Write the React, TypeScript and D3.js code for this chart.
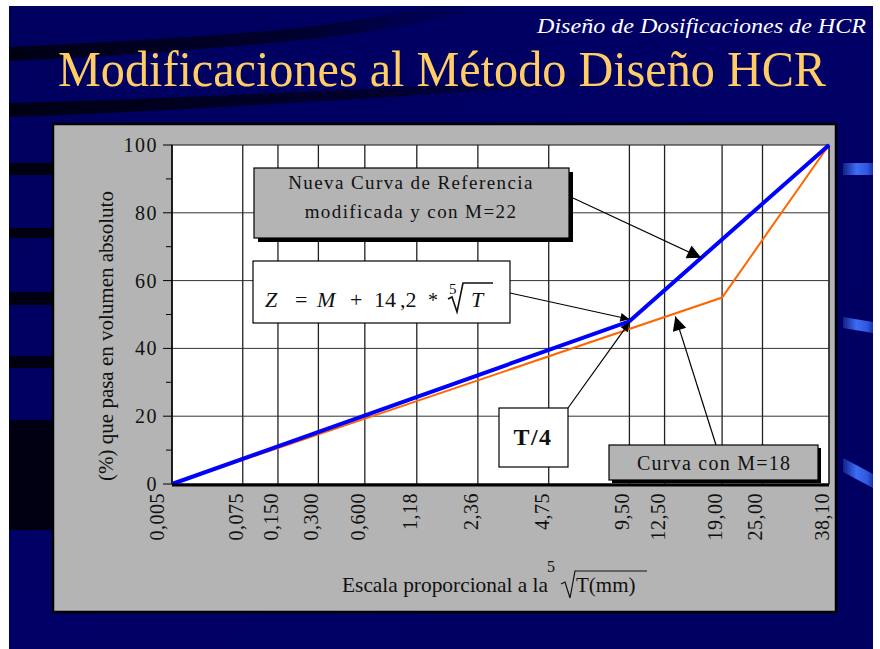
import React from "react";
import * as d3 from "d3";

// tamices (mm) y etiquetas del eje x
const sieveSizes = [0.005, 0.075, 0.15, 0.3, 0.6, 1.18, 2.36, 4.75, 9.5, 12.5, 19, 25, 38.1];
const sieveLabels = ["0,005", "0,075", "0,150", "0,300", "0,600", "1,18", "2,36", "4,75", "9,50", "12,50", "19,00", "25,00", "38,10"];

// curvas: % que pasa
const curveM22 = [
  { t: 0.005, p: 0 },
  { t: 9.5, p: 48 },
  { t: 38.1, p: 100 },
];
const curveM18 = [
  { t: 0.005, p: 0 },
  { t: 19, p: 55 },
  { t: 38.1, p: 100 },
];

const yMajor = [0, 20, 40, 60, 80, 100];
const yMinor = [10, 30, 50, 70, 90];

const SERIF = "'Liberation Serif', 'Times New Roman', Times, serif";

export default function App() {
  const W = 880;
  const H = 649;
  const plot = { left: 172, right: 829, top: 145, bottom: 484 };

  // escala proporcional a la raiz quinta de T
  const x = d3
    .scalePow()
    .exponent(0.2)
    .domain([0.0127, 38.1])
    .range([plot.left, plot.right])
    .clamp(true);
  const y = d3.scaleLinear().domain([0, 100]).range([plot.bottom, plot.top]);

  const line = d3
    .line<{ t: number; p: number }>()
    .x((d) => x(d.t))
    .y((d) => y(d.p));

  // puntos de las flechas tomados de las curvas
  const kink = [x(9.5), y(48)];
  const b0 = [x(9.5), y(48)];
  const b1 = [x(38.1), y(100)];
  const tip1 = [b0[0] + (b1[0] - b0[0]) * 0.36, b0[1] + (b1[1] - b0[1]) * 0.36];
  const o0 = [x(0.005), y(0)];
  const o1 = [x(19), y(55)];
  const tip4 = [o0[0] + (o1[0] - o0[0]) * 0.915, o0[1] + (o1[1] - o0[1]) * 0.915 + 3];

  return (
    <svg
      width={W}
      height={H}
      style={{ position: "absolute", left: 0, top: 0, display: "block" }}
    >
      <defs>
        <linearGradient id="bg" x1="0" y1="0" x2="1" y2="1">
          <stop offset="0%" stopColor="#00005e" />
          <stop offset="50%" stopColor="#000066" />
          <stop offset="100%" stopColor="#000060" />
        </linearGradient>
        <linearGradient id="swoosh" x1="0" y1="0" x2="1" y2="0">
          <stop offset="0%" stopColor="#000010" stopOpacity="0.95" />
          <stop offset="60%" stopColor="#000018" stopOpacity="0.7" />
          <stop offset="100%" stopColor="#000030" stopOpacity="0" />
        </linearGradient>
        <linearGradient id="dash" x1="0" y1="0" x2="1" y2="0">
          <stop offset="0%" stopColor="#10228a" />
          <stop offset="45%" stopColor="#3d6cf2" />
          <stop offset="80%" stopColor="#2f58e0" />
          <stop offset="100%" stopColor="#1a32a8" />
        </linearGradient>
        <marker id="arrS" viewBox="0 0 10 10" refX="10" refY="5" markerUnits="userSpaceOnUse" markerWidth="16" markerHeight="9" orient="auto">
          <path d="M0,0 L10,5 L0,10 z" fill="#000" />
        </marker>
        <marker id="arrB" viewBox="0 0 10 10" refX="10" refY="5" markerUnits="userSpaceOnUse" markerWidth="22" markerHeight="14" orient="auto">
          <path d="M0,0 L10,5 L0,10 z" fill="#000" />
        </marker>
      </defs>

      {/* fondo de la diapositiva */}
      <rect x={0} y={0} width={W} height={H} fill="#fff" />
      <rect x={9} y={6} width={864} height={643} fill="url(#bg)" />
      <path d="M9,47 C120,42 240,34 300,28 C360,20 410,12 430,6 L500,6 C440,20 380,32 300,40 C220,48 120,56 9,61 Z" fill="url(#swoosh)" />
      <path d="M9,103 C150,99 300,93 650,74 L650,80 C300,103 150,112 9,117 Z" fill="url(#swoosh)" />
      <rect x={9} y={163} width={44} height={12} fill="#000010" />
      <rect x={9} y={228} width={44} height={10} fill="#000010" />
      <rect x={9} y={292} width={44} height={13} fill="#000010" />
      <rect x={9} y={356} width={44} height={12} fill="#000010" />
      <rect x={9} y={420} width={44} height={110} fill="#000012" />
      <polygon points="843,163 873,163 873,175 843,175" fill="url(#dash)" />
      <polygon points="843,317 873,322 873,333 843,328" fill="url(#dash)" />
      <polygon points="843,458 873,474 873,488 843,472" fill="url(#dash)" />

      {/* titulos */}
      <text x={537} y={33} fill="#fff" fontFamily={SERIF} fontStyle="italic" fontSize={22} textLength={329} lengthAdjust="spacingAndGlyphs">
        Diseño de Dosificaciones de HCR
      </text>
      <text x={58} y={86} fill="#ffcc66" fontFamily={SERIF} fontSize={50} textLength={768} lengthAdjust="spacingAndGlyphs">
        Modificaciones al Método Diseño HCR
      </text>

      {/* panel del grafico */}
      <rect x={53} y={124} width={783} height={488} fill="#b4b4b4" stroke="#000" strokeWidth={2.5} />
      <rect x={plot.left} y={plot.top} width={plot.right - plot.left} height={plot.bottom - plot.top} fill="#fff" stroke="#333" strokeWidth={1.2} />

      {/* rejilla */}
      {yMajor.slice(1, -1).map((v) => (
        <line key={"gy" + v} x1={plot.left} x2={plot.right} y1={y(v)} y2={y(v)} stroke="#333" strokeWidth={1} />
      ))}
      {sieveSizes.slice(1).map((t) => (
        <line key={"gx" + t} x1={x(t)} x2={x(t)} y1={plot.top} y2={plot.bottom} stroke="#222" strokeWidth={1.3} />
      ))}

      {/* eje y */}
      <line x1={plot.left} x2={plot.left} y1={plot.top} y2={plot.bottom} stroke="#000" strokeWidth={1.5} />
      {yMajor.map((v) => (
        <g key={"ty" + v}>
          <line x1={plot.left - 9} x2={plot.left} y1={y(v)} y2={y(v)} stroke="#000" strokeWidth={1} />
          <text x={158} y={y(v) + 7} textAnchor="end" fontFamily={SERIF} fontSize={20} letterSpacing={1.5} fill="#111">
            {v}
          </text>
        </g>
      ))}
      {yMinor.map((v) => (
        <line key={"my" + v} x1={plot.left - 6} x2={plot.left} y1={y(v)} y2={y(v)} stroke="#000" strokeWidth={1} />
      ))}
      <text transform={`translate(113,336) rotate(-90)`} textAnchor="middle" fontFamily={SERIF} fontSize={21} fill="#111">
        (%) que pasa en volumen absoluto
      </text>

      {/* curvas */}
      <path d={line(curveM18) || ""} fill="none" stroke="#ff6600" strokeWidth={2} />
      <path d={line(curveM22) || ""} fill="none" stroke="#0000ff" strokeWidth={4} />

      {/* eje x */}
      <line x1={plot.left} x2={plot.right} y1={plot.bottom + 1} y2={plot.bottom + 1} stroke="#000" strokeWidth={3} />
      {sieveSizes.map((t, i) => (
        <text
          key={"tx" + t}
          transform={`translate(${x(t) + (i === 0 ? -8 : 0)},493) rotate(-90)`}
          textAnchor="end"
          fontFamily={SERIF}
          fontSize={20}
          letterSpacing={0.5}
          fill="#111"
        >
          {sieveLabels[i]}
        </text>
      ))}
      <text x={342} y={592} fontFamily={SERIF} fontSize={21} textLength={206} lengthAdjust="spacingAndGlyphs" fill="#111">
        Escala proporcional a la
      </text>
      <text x={547} y={572} fontFamily={SERIF} fontSize={16} fill="#111">5</text>
      <path d="M561,584 L565,582 L570,598 L575,571 L647,571" fill="none" stroke="#111" strokeWidth={1.2} />
      <text x={576} y={592} fontFamily={SERIF} fontSize={21} fill="#111">T(mm)</text>

      {/* recuadro: nueva curva */}
      <line x1={573} y1={198} x2={tip1[0]} y2={tip1[1]} stroke="#000" strokeWidth={1.2} markerEnd="url(#arrB)" />
      <rect x={258} y={172} width={315} height={70} fill="#000" />
      <rect x={254} y={168} width={315} height={70} fill="#b4b4b4" stroke="#000" strokeWidth={1.2} />
      <text x={411} y={189} textAnchor="middle" fontFamily={SERIF} fontSize={19} letterSpacing={1.4} fill="#111">
        Nueva Curva de Referencia
      </text>
      <text x={411} y={218} textAnchor="middle" fontFamily={SERIF} fontSize={19} letterSpacing={1.4} fill="#111">
        modificada y con M=22
      </text>

      {/* recuadro: formula */}
      <line x1={510} y1={293} x2={kink[0]} y2={kink[1] - 2} stroke="#000" strokeWidth={1.2} markerEnd="url(#arrS)" />
      <rect x={253} y={261} width={257} height={62} fill="#fff" stroke="#000" strokeWidth={1.2} />
      <g fontFamily={SERIF} fill="#111" fontSize={22}>
        <text x={265} y={307} fontStyle="italic">Z</text>
        <text x={295} y={307}>=</text>
        <text x={317} y={307} fontStyle="italic">M</text>
        <text x={350} y={307}>+</text>
        <text x={374} y={307}>14</text>
        <text x={400} y={307}>,2</text>
        <text x={428} y={307} fontSize={20}>*</text>
        <text x={449} y={294} fontSize={15}>5</text>
        <text x={471} y={307} fontStyle="italic">T</text>
      </g>
      <path d="M448,299 L452,297 L457,312 L463,283 L493,283" fill="none" stroke="#111" strokeWidth={1.6} />

      {/* recuadro: T/4 */}
      <line x1={568} y1={408} x2={kink[0]} y2={kink[1] + 1} stroke="#000" strokeWidth={1.2} markerEnd="url(#arrS)" />
      <rect x={499} y={408} width={69} height={59} fill="#fff" stroke="#000" strokeWidth={1.2} />
      <text x={533} y={445} textAnchor="middle" fontFamily={SERIF} fontSize={24} fontWeight="bold" letterSpacing={1.5} fill="#111">
        T/4
      </text>

      {/* recuadro: curva M=18 */}
      <line x1={716} y1={445} x2={tip4[0]} y2={tip4[1]} stroke="#000" strokeWidth={1.2} markerEnd="url(#arrB)" />
      <rect x={612} y={448} width={209} height={35} fill="#000" />
      <rect x={609} y={445} width={209} height={35} fill="#b4b4b4" stroke="#000" strokeWidth={1.2} />
      <text x={637} y={470} fontFamily={SERIF} fontSize={20} textLength={153} lengthAdjust="spacing" fill="#111">
        Curva con M=18
      </text>
    </svg>
  );
}
